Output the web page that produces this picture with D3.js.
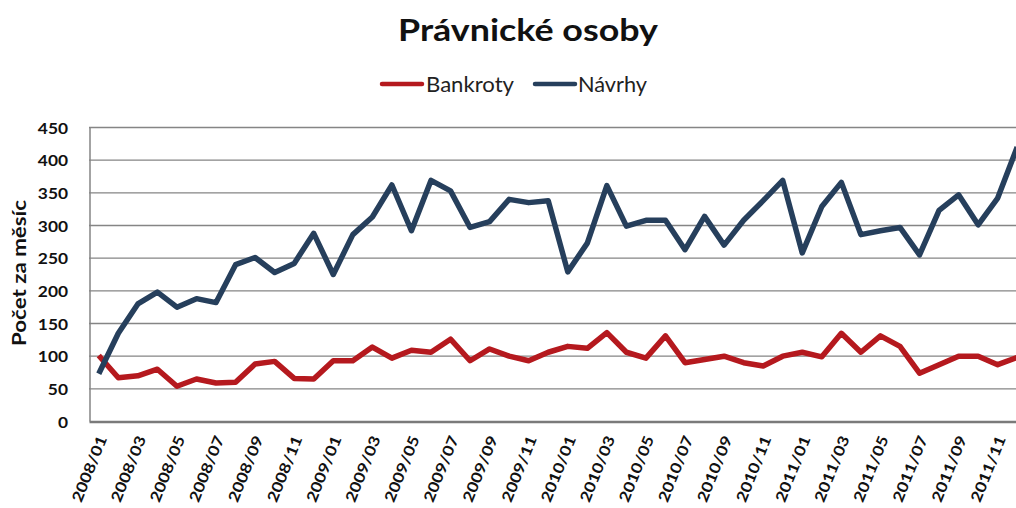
<!DOCTYPE html>
<html>
<head>
<meta charset="utf-8">
<script src="https://cdn.jsdelivr.net/npm/d3@7"></script>
<style>
  html, body { margin: 0; padding: 0; background: #fff; }
  svg { display: block; overflow: hidden; }
</style>
</head>
<body>
<svg id="chart" width="1016" height="508"></svg>
<script>
const months = [
  "2008/01","2008/02","2008/03","2008/04","2008/05","2008/06","2008/07","2008/08","2008/09","2008/10","2008/11","2008/12",
  "2009/01","2009/02","2009/03","2009/04","2009/05","2009/06","2009/07","2009/08","2009/09","2009/10","2009/11","2009/12",
  "2010/01","2010/02","2010/03","2010/04","2010/05","2010/06","2010/07","2010/08","2010/09","2010/10","2010/11","2010/12",
  "2011/01","2011/02","2011/03","2011/04","2011/05","2011/06","2011/07","2011/08","2011/09","2011/10","2011/11","2011/12"
];
const bankroty = [
  101, 67, 70, 80, 54, 65, 59, 60, 88, 92, 66, 65,
  93, 93, 114, 97, 109, 106, 126, 93, 111, 100, 93, 106,
  115, 112, 136, 106, 97, 131, 90, 95, 100, 90, 85, 100,
  106, 99, 135, 106, 131, 115, 74, 87, 100, 100, 87, 98
];
const navrhy = [
  73, 135, 180, 198, 175, 188, 182, 240, 251, 228, 242, 288,
  225, 286, 313, 362, 292, 369, 353, 297, 306, 340, 335, 338,
  229, 273, 361, 299, 308, 308, 263, 314, 270, 308, 338, 369,
  258, 329, 366, 286, 292, 297, 255, 323, 347, 301, 342, 420
];
const yTicks = [0, 50, 100, 150, 200, 250, 300, 350, 400, 450];
const seriesNames = ["Bankroty", "Návrhy"];
const seriesColors = ["#b5191e", "#263f5c"];

(function () {
const svg = d3.select("#chart");
const pLeft = 89, pRight = 1027, pTop = 127.5, pBottom = 421.5;
const font = "Lato, 'Open Sans', sans-serif";

const x = d3.scalePoint().domain(months).range([pLeft, pRight]).padding(0.5);
const y = d3.scaleLinear().domain([0, 450]).range([pBottom, pTop]);

// Title
svg.append("text")
  .attr("x", 398).attr("y", 41)
  .attr("font-family", font).attr("font-weight", "bold")
  .attr("font-size", 31).attr("fill", "#111")
  .attr("textLength", 260).attr("lengthAdjust", "spacingAndGlyphs")
  .text("Právnické osoby");

// Legend
const legendItems = [
  { name: seriesNames[0], color: seriesColors[0], x1: 382, tx: 426, tl: 88 },
  { name: seriesNames[1], color: seriesColors[1], x1: 535, tx: 578, tl: 69 }
];
legendItems.forEach(d => {
  svg.append("line")
    .attr("x1", d.x1).attr("x2", d.x1 + 40).attr("y1", 84).attr("y2", 84)
    .attr("stroke", d.color).attr("stroke-width", 4.5).attr("stroke-linecap", "round");
  svg.append("text")
    .attr("x", d.tx).attr("y", 91.5)
    .attr("font-family", font).attr("font-size", 20.5).attr("fill", "#222")
    .attr("textLength", d.tl).attr("lengthAdjust", "spacingAndGlyphs")
    .text(d.name);
});

// Gridlines
svg.append("g")
  .selectAll("line").data(yTicks.filter(t => t > 0)).join("line")
  .attr("x1", pLeft).attr("x2", pRight)
  .attr("y1", d => y(d)).attr("y2", d => y(d))
  .attr("stroke", "#858585").attr("stroke-width", 1.4);

// Left border
svg.append("line")
  .attr("x1", pLeft + 1).attr("x2", pLeft + 1).attr("y1", pTop).attr("y2", pBottom)
  .attr("stroke", "#858585").attr("stroke-width", 1.5);

// Y axis
const yAxis = d3.axisLeft(y).tickValues(yTicks).tickSize(0).tickPadding(0);
const gy = svg.append("g").attr("transform", `translate(${pLeft - 21},0)`).call(yAxis);
gy.select(".domain").remove();
gy.selectAll("text")
  .attr("font-family", font).attr("font-weight", "bold")
  .attr("font-size", 15.5).attr("fill", "#111").attr("dy", "0.36em")
  .attr("transform", "scale(1.12,1)");

// Y axis title
svg.append("text")
  .attr("transform", "translate(26,273) rotate(-90)")
  .attr("text-anchor", "middle")
  .attr("font-family", font).attr("font-weight", "bold")
  .attr("font-size", 18.5).attr("fill", "#111")
  .attr("textLength", 146).attr("lengthAdjust", "spacingAndGlyphs")
  .text("Počet za měsíc");

// X axis
const xAxis = d3.axisBottom(x)
  .tickValues(months.filter((m, i) => i % 2 === 0))
  .tickSize(0).tickPadding(0);
const gx = svg.append("g").attr("transform", `translate(0,${pBottom})`).call(xAxis);
gx.select(".domain").attr("stroke", "#7a7a7a").attr("stroke-width", 2.5);
gx.selectAll("text")
  .attr("font-family", font).attr("font-weight", "bold")
  .attr("font-size", 15).attr("fill", "#111")
  .attr("text-anchor", "end")
  .attr("dy", "0.36em")
  .attr("transform", "translate(3,15) rotate(-68) scale(1.18,1)");

// Lines
const line = d3.line().x((d, i) => x(months[i])).y(d => y(d));
[bankroty, navrhy].forEach((data, k) => {
  svg.append("path")
    .datum(data)
    .attr("d", line)
    .attr("fill", "none")
    .attr("stroke", seriesColors[k])
    .attr("stroke-width", 5.5)
    .attr("stroke-linejoin", "round");
});
})();
</script>
</body>
</html>
